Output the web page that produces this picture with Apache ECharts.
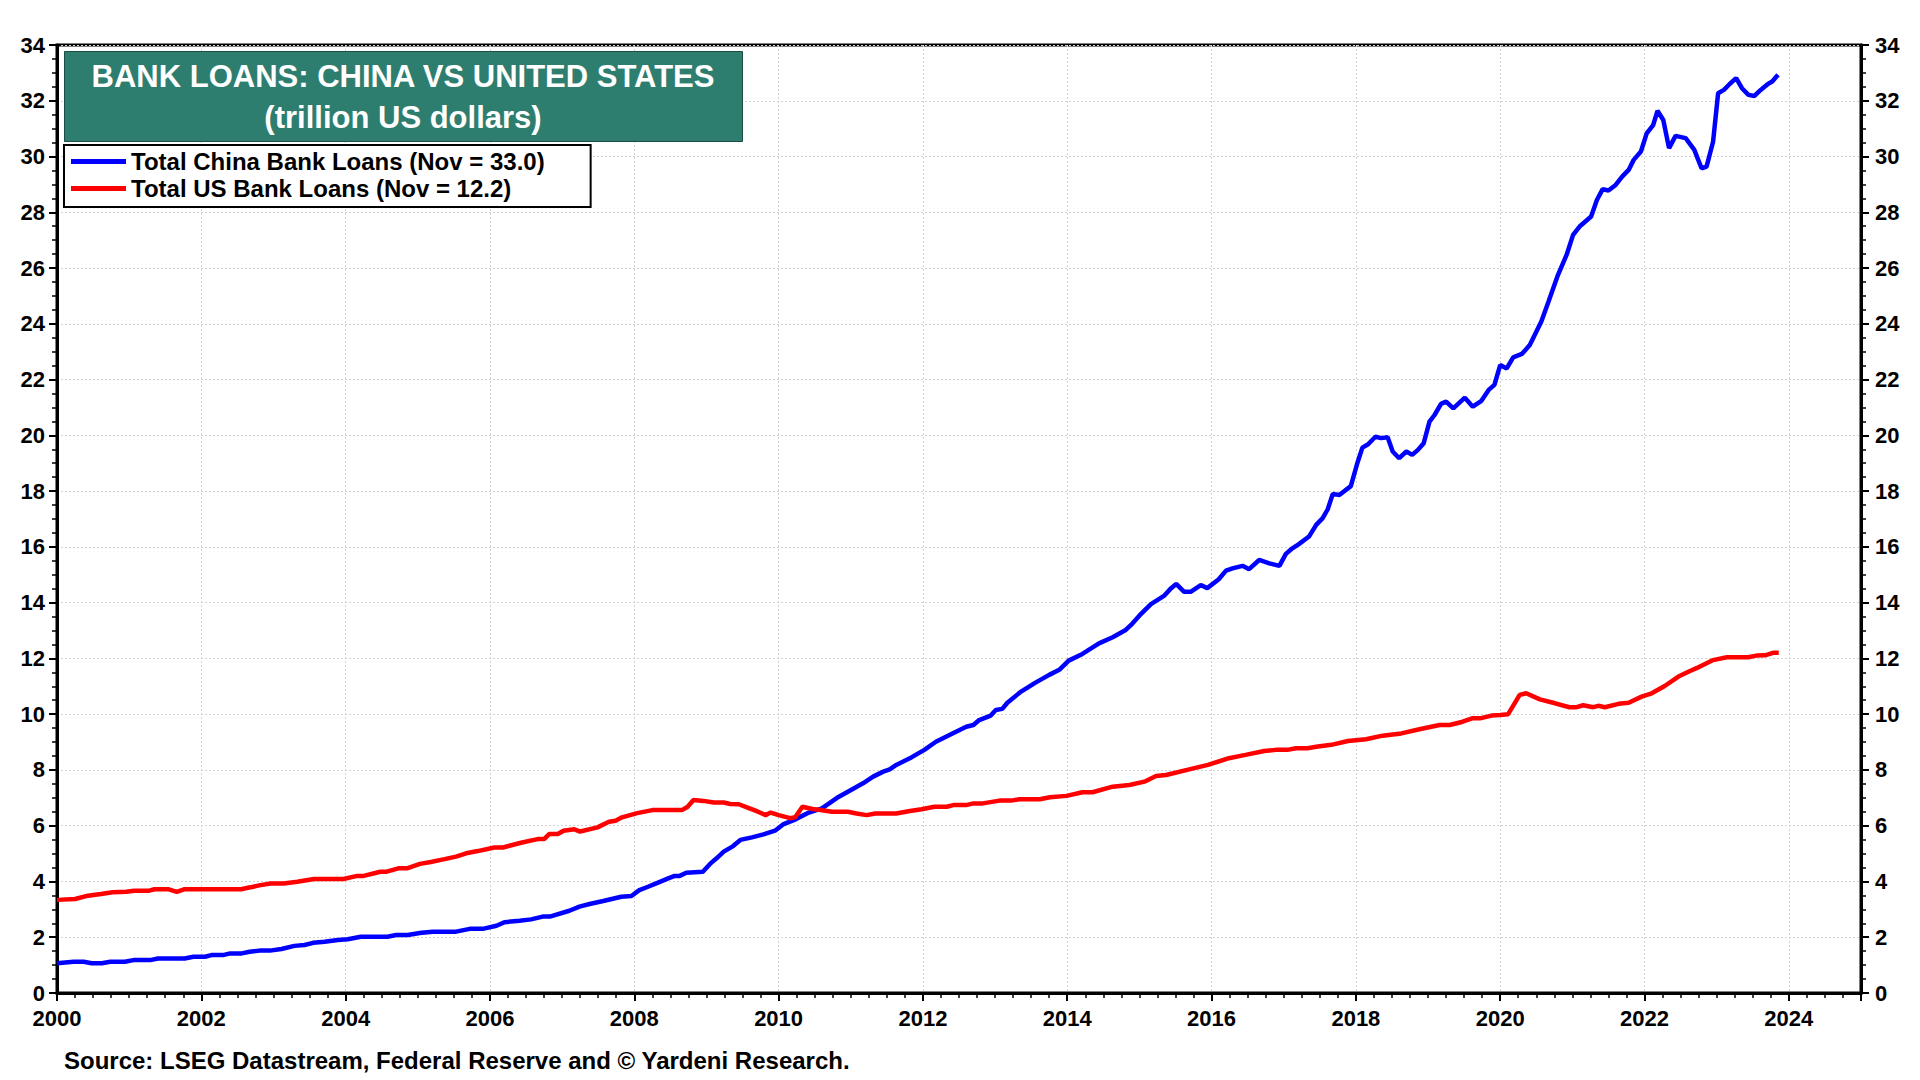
<!DOCTYPE html>
<html>
<head>
<meta charset="utf-8">
<script src="https://cdn.jsdelivr.net/npm/echarts@6/dist/echarts.min.js"></script>
<style>html,body{margin:0;padding:0;background:#fff;}#chart{width:1920px;height:1080px;}</style>
</head>
<body>
<div id="chart"></div>
<script>
// Time in decimal years, values in trillion US dollars
var chinaDates = [2000.00,2000.23,2000.37,2000.48,2000.62,2000.74,2000.94,2001.06,2001.29,2001.40,2001.77,2001.89,2002.05,2002.14,2002.30,2002.40,2002.56,2002.67,2002.81,2002.95,2003.11,2003.29,2003.43,2003.55,2003.71,2003.89,2004.03,2004.21,2004.58,2004.70,2004.86,2005.05,2005.21,2005.53,2005.72,2005.90,2006.09,2006.20,2006.41,2006.57,2006.73,2006.83,2007.10,2007.24,2007.38,2007.57,2007.82,2007.96,2008.07,2008.19,2008.33,2008.47,2008.56,2008.63,2008.72,2008.95,2009.05,2009.14,2009.24,2009.37,2009.47,2009.63,2009.79,2009.95,2010.07,2010.21,2010.42,2010.60,2010.81,2010.96,2011.17,2011.31,2011.45,2011.54,2011.63,2011.84,2012.02,2012.18,2012.41,2012.60,2012.70,2012.78,2012.94,2013.01,2013.10,2013.17,2013.36,2013.56,2013.75,2013.89,2014.02,2014.21,2014.44,2014.63,2014.81,2014.90,2015.02,2015.16,2015.34,2015.44,2015.51,2015.62,2015.71,2015.85,2015.94,2016.10,2016.20,2016.29,2016.43,2016.52,2016.66,2016.80,2016.94,2017.03,2017.12,2017.21,2017.35,2017.45,2017.54,2017.61,2017.68,2017.77,2017.93,2018.02,2018.09,2018.17,2018.27,2018.35,2018.44,2018.51,2018.60,2018.70,2018.78,2018.86,2018.94,2019.02,2019.09,2019.18,2019.25,2019.35,2019.51,2019.62,2019.74,2019.84,2019.92,2020.00,2020.09,2020.18,2020.30,2020.41,2020.57,2020.67,2020.80,2020.92,2021.01,2021.10,2021.26,2021.34,2021.42,2021.50,2021.60,2021.69,2021.78,2021.85,2021.95,2022.03,2022.12,2022.18,2022.26,2022.34,2022.43,2022.57,2022.69,2022.79,2022.86,2022.95,2023.02,2023.10,2023.18,2023.27,2023.35,2023.44,2023.52,2023.61,2023.71,2023.77,2023.85];
var chinaValues = [1.07,1.12,1.12,1.07,1.07,1.12,1.12,1.18,1.18,1.24,1.24,1.30,1.30,1.36,1.36,1.42,1.42,1.48,1.52,1.52,1.58,1.69,1.72,1.80,1.84,1.90,1.93,2.02,2.02,2.08,2.08,2.16,2.20,2.20,2.30,2.30,2.41,2.54,2.59,2.64,2.74,2.74,2.95,3.10,3.19,3.30,3.45,3.48,3.69,3.81,3.96,4.11,4.20,4.20,4.31,4.35,4.63,4.83,5.07,5.27,5.49,5.58,5.69,5.82,6.06,6.20,6.47,6.62,7.00,7.22,7.52,7.76,7.94,8.02,8.18,8.45,8.72,9.01,9.31,9.55,9.61,9.79,9.95,10.15,10.19,10.41,10.81,11.13,11.41,11.59,11.92,12.16,12.54,12.76,13.02,13.24,13.59,13.95,14.24,14.52,14.67,14.39,14.39,14.63,14.52,14.84,15.15,15.23,15.32,15.20,15.53,15.41,15.32,15.75,15.95,16.10,16.37,16.79,17.03,17.35,17.90,17.86,18.18,19.00,19.56,19.68,19.95,19.90,19.93,19.42,19.18,19.42,19.30,19.48,19.72,20.49,20.73,21.13,21.21,20.97,21.35,21.03,21.24,21.63,21.81,22.52,22.40,22.80,22.92,23.24,24.08,24.80,25.75,26.47,27.19,27.49,27.85,28.44,28.83,28.78,28.98,29.28,29.52,29.88,30.18,30.83,31.13,31.64,31.31,30.30,30.74,30.66,30.24,29.58,29.64,30.53,32.27,32.39,32.60,32.81,32.45,32.21,32.17,32.39,32.60,32.69,32.93];

var usDates = [2000.00,2000.25,2000.43,2000.61,2000.77,2000.96,2001.07,2001.28,2001.35,2001.55,2001.66,2001.76,2002.55,2002.68,2002.82,2002.96,2003.14,2003.33,2003.56,2003.97,2004.16,2004.25,2004.48,2004.57,2004.73,2004.85,2005.03,2005.18,2005.37,2005.53,2005.67,2005.83,2006.06,2006.18,2006.43,2006.66,2006.75,2006.82,2006.94,2007.02,2007.17,2007.25,2007.49,2007.65,2007.74,2007.83,2008.04,2008.25,2008.66,2008.74,2008.82,2008.96,2009.10,2009.24,2009.33,2009.45,2009.56,2009.68,2009.82,2009.89,2010.00,2010.16,2010.23,2010.33,2010.47,2010.58,2010.74,2010.96,2011.08,2011.22,2011.34,2011.63,2011.82,2011.98,2012.16,2012.33,2012.42,2012.60,2012.70,2012.83,2013.06,2013.22,2013.34,2013.62,2013.76,2013.99,2014.21,2014.35,2014.63,2014.86,2015.07,2015.23,2015.37,2015.69,2015.95,2016.24,2016.47,2016.73,2016.89,2017.05,2017.17,2017.33,2017.45,2017.66,2017.89,2018.14,2018.37,2018.63,2018.88,2019.16,2019.30,2019.48,2019.61,2019.72,2019.88,2020.00,2020.11,2020.27,2020.36,2020.55,2020.76,2020.96,2021.06,2021.15,2021.29,2021.36,2021.45,2021.64,2021.78,2021.96,2022.10,2022.28,2022.47,2022.63,2022.72,2022.95,2023.14,2023.44,2023.55,2023.67,2023.78,2023.86];
var usValues = [3.34,3.37,3.49,3.55,3.61,3.63,3.67,3.67,3.72,3.72,3.63,3.72,3.72,3.79,3.87,3.93,3.93,3.99,4.09,4.09,4.20,4.20,4.35,4.35,4.47,4.47,4.63,4.70,4.80,4.89,5.01,5.09,5.22,5.22,5.39,5.52,5.52,5.70,5.70,5.82,5.87,5.79,5.94,6.14,6.18,6.30,6.45,6.56,6.56,6.68,6.92,6.89,6.83,6.83,6.78,6.77,6.66,6.54,6.38,6.47,6.38,6.27,6.30,6.68,6.60,6.56,6.50,6.50,6.44,6.38,6.44,6.44,6.53,6.59,6.68,6.68,6.74,6.74,6.80,6.80,6.90,6.90,6.95,6.95,7.02,7.07,7.20,7.20,7.40,7.46,7.58,7.78,7.82,8.02,8.18,8.42,8.54,8.68,8.72,8.72,8.78,8.78,8.83,8.90,9.04,9.10,9.23,9.31,9.46,9.61,9.61,9.73,9.85,9.85,9.95,9.97,10.00,10.69,10.75,10.53,10.39,10.25,10.25,10.32,10.25,10.30,10.25,10.37,10.41,10.63,10.75,11.01,11.35,11.55,11.65,11.94,12.04,12.04,12.10,12.11,12.20,12.20];

var seriesNames = ['Total China Bank Loans (Nov = 33.0)', 'Total US Bank Loans (Nov = 12.2)'];
var titleLines = ['BANK LOANS: CHINA VS UNITED STATES', '(trillion US dollars)'];
var sourceText = 'Source: LSEG Datastream, Federal Reserve and \u00A9 Yardeni Research.';

function zip(a, b) { return a.map(function (d, i) { return [d, b[i]]; }); }

var FONT = '"Liberation Sans", Arial, Helvetica, sans-serif';
var chart = echarts.init(document.getElementById('chart'), null, { renderer: 'svg' });

var gridLine = { show: true, lineStyle: { color: '#d2d2d2', type: [2, 2], width: 1 } };
function yAxisCfg(pos, margin) {
  return {
    type: 'value', position: pos, min: 0, max: 34, interval: 2,
    axisLine: { show: true, lineStyle: { color: '#000', width: 3 } },
    axisTick: { show: true, inside: false, length: 8, lineStyle: { color: '#000', width: 2 } },
    minorTick: { show: true, splitNumber: 4, length: 5, lineStyle: { color: '#000', width: 1.5 } },
    axisLabel: { show: true, margin: margin, color: '#000', fontSize: 22, fontWeight: 'bold', fontFamily: FONT },
    splitLine: pos === 'left' ? gridLine : { show: false }
  };
}

var option = {
  animation: false,
  backgroundColor: '#fff',
  grid: { left: 57, right: 59, top: 45, bottom: 87, show: true, borderColor: '#000', borderWidth: 3, backgroundColor: 'transparent' },
  xAxis: {
    type: 'value', min: 2000, max: 2025, interval: 2,
    axisLine: { show: true, onZero: false, lineStyle: { color: '#000', width: 3 } },
    axisTick: { show: true, length: 8, lineStyle: { color: '#000', width: 2 } },
    minorTick: { show: true, splitNumber: 8, length: 5, lineStyle: { color: '#000', width: 1.5 } },
    axisLabel: { margin: 14, color: '#000', fontSize: 22, fontWeight: 'bold', fontFamily: FONT, showMaxLabel: false,
      formatter: function (v) { return String(Math.round(v)); } },
    splitLine: gridLine
  },
  yAxis: [yAxisCfg('left', 12), yAxisCfg('right', 14)],
  legend: {
    orient: 'vertical', left: 64, top: 145,
    padding: [4, 46, 6, 7], itemGap: 2, itemWidth: 55, itemHeight: 5, icon: 'rect',
    backgroundColor: '#fff', borderColor: '#000', borderWidth: 2, borderRadius: 0,
    textStyle: { color: '#000', fontSize: 24, fontWeight: 'bold', fontFamily: FONT, lineHeight: 25 },
    data: seriesNames
  },
  graphic: [
    { type: 'rect', left: 64, top: 51, shape: { width: 678, height: 90 },
      style: { fill: '#2e7e6f', stroke: '#1c4d44', lineWidth: 1 }, z: 10 },
    { type: 'text', x: 403, y: 76, z: 11,
      style: { text: titleLines[0], fill: '#fff', font: 'bold 31px ' + FONT, textAlign: 'center', textVerticalAlign: 'middle' } },
    { type: 'text', x: 403, y: 117, z: 11,
      style: { text: titleLines[1], fill: '#fff', font: 'bold 31px ' + FONT, textAlign: 'center', textVerticalAlign: 'middle' } },
    { type: 'text', x: 64, y: 1060, z: 11,
      style: { text: sourceText, fill: '#000', font: 'bold 24px ' + FONT, textAlign: 'left', textVerticalAlign: 'middle' } }
  ],
  series: [
    { name: seriesNames[0], type: 'line', data: zip(chinaDates, chinaValues), showSymbol: false, symbol: 'none',
      lineStyle: { color: '#0000ff', width: 4.5 }, itemStyle: { color: '#0000ff' }, z: 3 },
    { name: seriesNames[1], type: 'line', data: zip(usDates, usValues), showSymbol: false, symbol: 'none',
      lineStyle: { color: '#ff0000', width: 4.5 }, itemStyle: { color: '#ff0000' }, z: 3 }
  ]
};
chart.setOption(option);
</script>
</body>
</html>
